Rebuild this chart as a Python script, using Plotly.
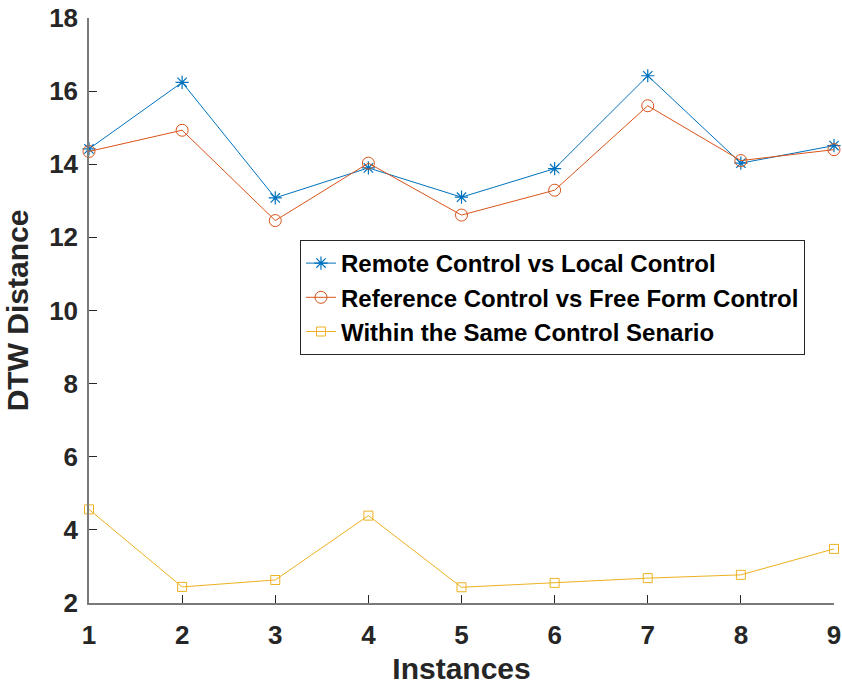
import plotly.graph_objects as go

# Instance indices on the x axis
instances = [1, 2, 3, 4, 5, 6, 7, 8, 9]

# DTW distances per comparison
remote_vs_local = [14.42, 16.24, 13.08, 13.90, 13.10, 13.88, 16.42, 14.03, 14.51]
reference_vs_free = [14.35, 14.93, 12.46, 14.03, 12.61, 13.29, 15.60, 14.10, 14.40]
within_same = [4.56, 2.44, 2.63, 4.39, 2.43, 2.55, 2.68, 2.77, 3.48]

series_names = [
    "Remote Control vs Local Control",
    "Reference Control vs Free Form Control",
    "Within the Same Control Senario",
]

x_ticks = [1, 2, 3, 4, 5, 6, 7, 8, 9]
y_ticks = [2, 4, 6, 8, 10, 12, 14, 16, 18]

FONT = "Liberation Sans, Arial, Helvetica, sans-serif"
AXIS_COLOR = "#262626"

fig = go.Figure()

fig.add_trace(go.Scatter(
    x=instances, y=remote_vs_local, name=series_names[0],
    mode="lines+markers",
    line=dict(color="#0072BD", width=1),
    marker=dict(symbol="asterisk-open", size=11,
                line=dict(color="#0072BD", width=1.2)),
    cliponaxis=False,
))
fig.add_trace(go.Scatter(
    x=instances, y=reference_vs_free, name=series_names[1],
    mode="lines+markers",
    line=dict(color="#D95319", width=1),
    marker=dict(symbol="circle-open", size=12,
                line=dict(color="#D95319", width=1)),
    cliponaxis=False,
))
fig.add_trace(go.Scatter(
    x=instances, y=within_same, name=series_names[2],
    mode="lines+markers",
    line=dict(color="#EDB120", width=1),
    marker=dict(symbol="square-open", size=9,
                line=dict(color="#EDB120", width=1)),
    cliponaxis=False,
))

axis_common = dict(
    showline=True, linecolor="#7a7a7a", linewidth=1.5,
    ticks="inside", ticklen=8, tickwidth=1, tickcolor=AXIS_COLOR,
    showgrid=False, zeroline=False, automargin=False,
    tickfont=dict(family=FONT, size=26, color=AXIS_COLOR, weight="bold"),
    mirror=False,
)

fig.update_xaxes(
    range=[1, 9], tickvals=x_ticks, ticklabelstandoff=8,
    title=dict(text="<b>Instances</b>", standoff=9,
               font=dict(family=FONT, size=30, color=AXIS_COLOR)),
    **axis_common,
)
fig.update_yaxes(
    range=[2, 18], tickvals=y_ticks, ticklabelstandoff=4,
    title=dict(text="<b>DTW Distance</b>", standoff=12,
               font=dict(family=FONT, size=30, color=AXIS_COLOR)),
    **axis_common,
)

fig.update_layout(
    width=842, height=685,
    margin=dict(l=89, r=8, t=18, b=82),
    plot_bgcolor="white", paper_bgcolor="white",
    showlegend=True,
    legend=dict(
        x=0.2832, y=0.6205, xanchor="left", yanchor="top",
        bordercolor=AXIS_COLOR, borderwidth=1, bgcolor="white",
        font=dict(family=FONT, size=24, color="black", weight="bold"),
        tracegroupgap=0, itemsizing="trace",
    ),
)

fig.write_html("out.html")
